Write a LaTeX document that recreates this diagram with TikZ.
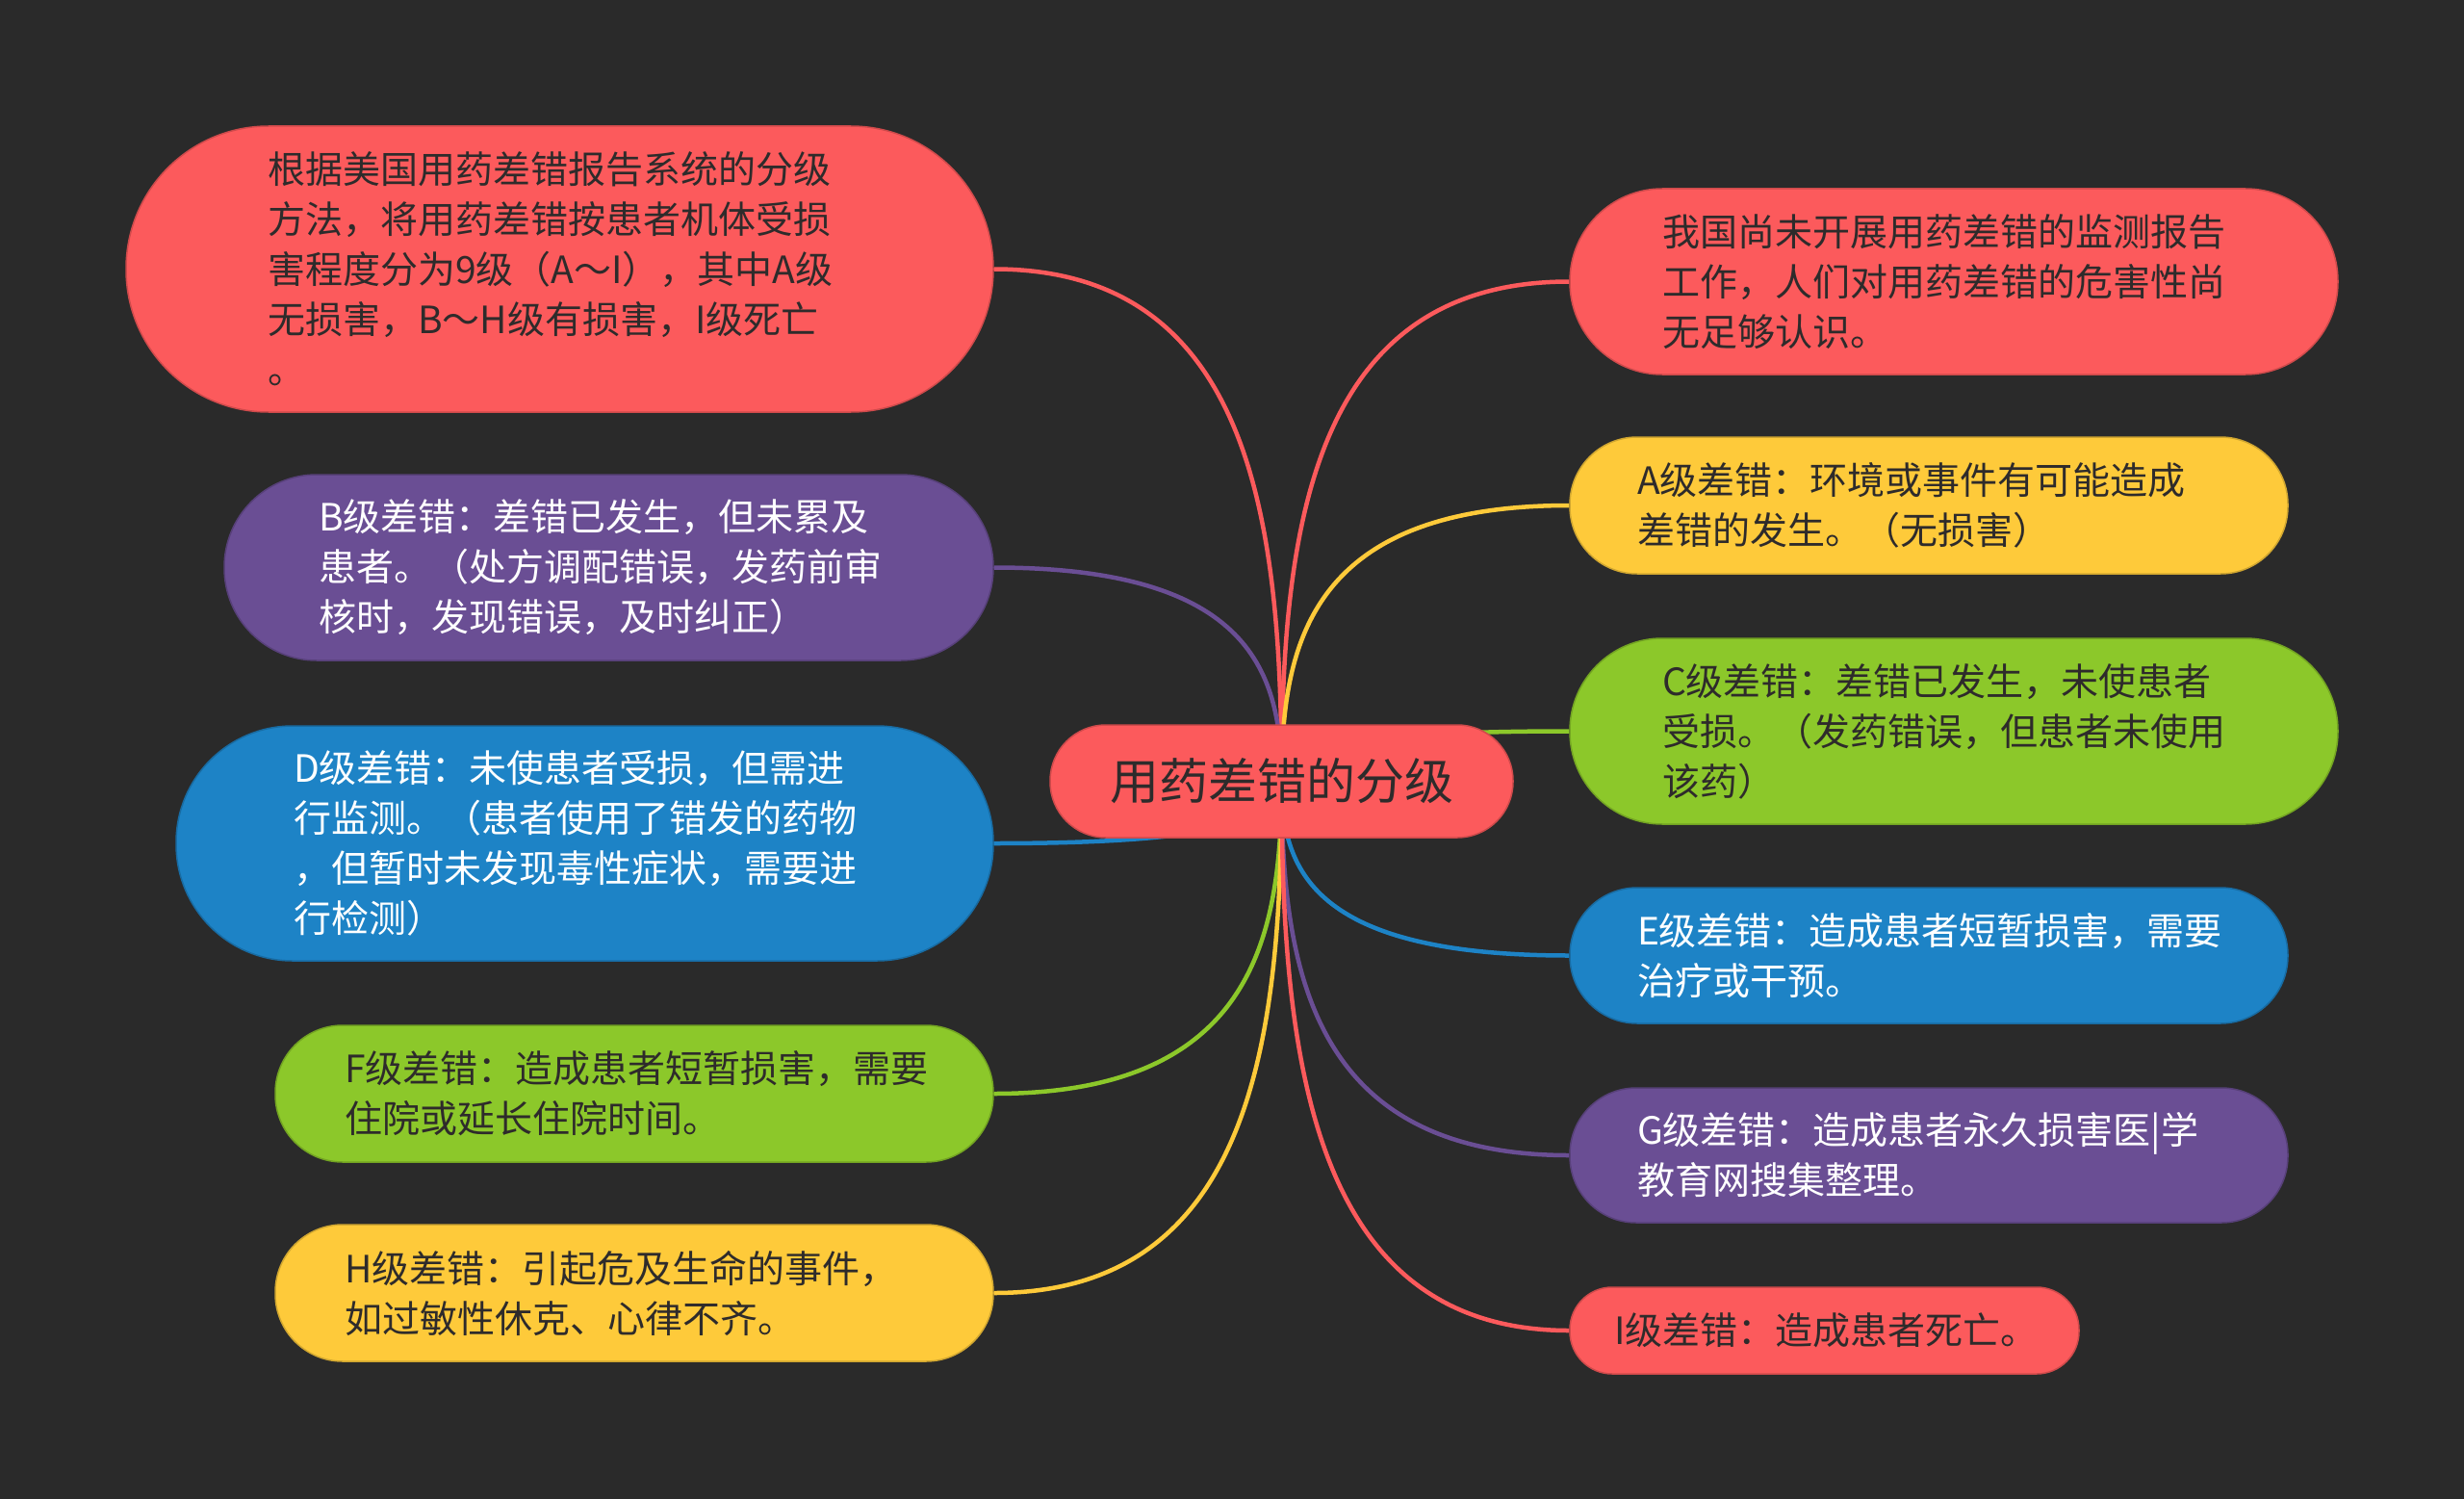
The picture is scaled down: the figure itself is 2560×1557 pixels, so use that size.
\documentclass[tikz,border=0pt]{standalone}
\usepackage{fontspec}
\setmainfont{Noto Sans CJK SC}
\usetikzlibrary{calc}
\definecolor{cbg}{HTML}{2A2A2A}
\definecolor{cred}{HTML}{FC5A5C}
\definecolor{cpurple}{HTML}{6A4E94}
\definecolor{cblue}{HTML}{1D83C6}
\definecolor{cgreen}{HTML}{8CC82A}
\definecolor{cyellow}{HTML}{FECA3A}
\definecolor{cdark}{HTML}{2E2B2B}
\pgfdeclarelayer{bg}
\pgfsetlayers{bg,main}
\begin{document}
\begin{tikzpicture}[x=1pt,y=-1pt,
  pill/.style={draw=#1!82!black, fill=#1, line width=1.5pt, inner xsep=0pt, inner ysep=0pt, align=left, font=\fontsize{39}{52}\selectfont},
  conn/.style={draw=#1, line width=4.5pt}]
\begin{pgfonlayer}{bg}
\fill[cbg] (0,0) rectangle (2560,1557);
\end{pgfonlayer}
\useasboundingbox (0,0) rectangle (2560,1557);

% centre
\node[pill=cred, align=center, font=\fontsize{51}{60}\selectfont, text=cdark, minimum width=481pt, minimum height=117pt, rounded corners=58pt] (c) at (1331.5,811.5) {用药差错的分级};

% left
\node[pill=cred, text=cdark, minimum width=901pt, minimum height=297pt, text width=607pt, rounded corners=148pt] (l1) at (581.5,279.5)
 {根据美国用药差错报告系统的分级\\方法，将用药差错按患者机体受损\\害程度分为9级（A～I），其中A级\\无损害，B～H级有损害，I级死亡\\。};
\node[pill=cpurple, text=white, minimum width=799pt, minimum height=193pt, text width=603pt, rounded corners=96pt] (l2) at (632.5,589.5)
 {B级差错：差错已发生，但未累及\\患者。（处方调配错误，发药前审\\核时，发现错误，及时纠正）};
\node[pill=cblue, text=white, minimum width=849pt, minimum height=244pt, text width=605pt, rounded corners=121pt] (l3) at (607.5,876)
 {D级差错：未使患者受损，但需进\\行监测。（患者使用了错发的药物\\，但暂时未发现毒性症状，需要进\\行检测）};
\node[pill=cgreen, text=cdark, minimum width=746pt, minimum height=142pt, text width=602pt, rounded corners=70pt] (l4) at (659,1136)
 {F级差错：造成患者短暂损害，需要\\住院或延长住院时间。};
\node[pill=cyellow, text=cdark, minimum width=746pt, minimum height=142pt, text width=602pt, rounded corners=70pt] (l5) at (659,1343)
 {H级差错：引起危及生命的事件，\\如过敏性休克、心律不齐。};

% right
\node[pill=cred, text=cdark, minimum width=798pt, minimum height=193pt, text width=606pt, rounded corners=96pt] (r1) at (2030,292.5)
 {我国尚未开展用药差错的监测报告\\工作，人们对用药差错的危害性尚\\无足够认识。};
\node[pill=cyellow, text=cdark, minimum width=746pt, minimum height=142pt, text width=606pt, rounded corners=70pt] (r2) at (2004,525)
 {A级差错：环境或事件有可能造成\\差错的发生。（无损害）};
\node[pill=cgreen, text=cdark, minimum width=798pt, minimum height=193pt, text width=606pt, rounded corners=96pt] (r3) at (2030,759.5)
 {C级差错：差错已发生，未使患者\\受损。（发药错误，但患者未使用\\该药）};
\node[pill=cblue, text=white, minimum width=746pt, minimum height=141pt, text width=606pt, rounded corners=70pt] (r4) at (2004,992.5)
 {E级差错：造成患者短暂损害，需要\\治疗或干预。};
\node[pill=cpurple, text=white, minimum width=746pt, minimum height=140pt, text width=606pt, rounded corners=69pt] (r5) at (2004,1200)
 {G级差错：造成患者永久损害医|学\\教育网搜集整理。};
\node[pill=cred, text=cdark, minimum width=529pt, minimum height=90pt, text width=437pt, rounded corners=44pt] (r6) at (1895.5,1382)
 {I级差错：造成患者死亡。};

\begin{pgfonlayer}{bg}
\foreach \n/\col in {l1/cred,l2/cpurple,l3/cblue,l4/cgreen,l5/cyellow}{
  \draw[conn=\col] (\n.east) .. controls ($(\n.east)!0.9!(c.center |- \n.east)$) and ($(c.center)!0.5!(c.center |- \n.east)$) .. (c.center);
}
\foreach \n/\col in {r1/cred,r2/cyellow,r3/cgreen,r4/cblue,r5/cpurple,r6/cred}{
  \draw[conn=\col] (\n.west) .. controls ($(\n.west)!0.9!(c.center |- \n.west)$) and ($(c.center)!0.5!(c.center |- \n.west)$) .. (c.center);
}
\end{pgfonlayer}
\end{tikzpicture}
\end{document}
